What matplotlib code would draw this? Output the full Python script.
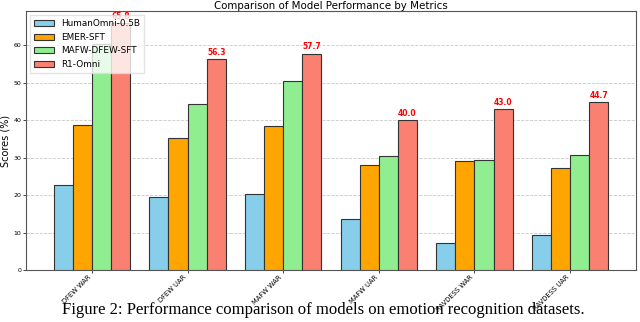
import matplotlib
matplotlib.use("Agg")
import matplotlib.pyplot as plt
import numpy as np

metrics = ["DFEW WAR", "DFEW UAR", "MAFW WAR", "MAFW UAR", "RAVDESS WAR", "RAVDESS UAR"]
models = ["HumanOmni-0.5B", "EMER-SFT", "MAFW-DFEW-SFT", "R1-Omni"]
humanomni = [22.6, 19.4, 20.2, 13.5, 7.3, 9.4]
emer_sft = [38.7, 35.3, 38.4, 28.0, 29.0, 27.2]
mafw_dfew_sft = [60.2, 44.4, 50.4, 30.4, 29.3, 30.8]
r1_omni = [65.8, 56.3, 57.7, 40.0, 43.0, 44.7]
colors = ["skyblue", "orange", "lightgreen", "salmon"]

series = [humanomni, emer_sft, mafw_dfew_sft, r1_omni]

fig = plt.figure(figsize=(6.4, 3.22), dpi=100)
ax = fig.add_axes([26/640, 52/322, 610/640, 259/322])

x = np.arange(len(metrics))
w = 0.2
for i, (vals, name, c) in enumerate(zip(series, models, colors)):
    bars = ax.bar(x + (i - 1.5) * w, vals, w, label=name, color=c,
                  edgecolor="#333333", linewidth=0.8, zorder=3)
    if name == "R1-Omni":
        for b, v in zip(bars, vals):
            ax.text(b.get_x() + b.get_width() / 2, v + 0.6, f"{v:.1f}",
                    ha="center", va="bottom", color="red", fontweight="bold",
                    fontsize=5.5, zorder=4)

ax.set_ylim(0, max(r1_omni) * 1.05)
ax.set_xticks(x)
ax.set_xticklabels(metrics, rotation=45, ha="right", fontsize=4.9)
ax.tick_params(axis="y", labelsize=4.5, length=2, width=0.5, pad=1.5)
ax.tick_params(axis="x", length=2, width=0.5, pad=1)
ax.set_ylabel("Scores (%)", fontsize=7, labelpad=2)
ax.set_title("Comparison of Model Performance by Metrics", fontsize=7.4, pad=1)
ax.yaxis.grid(True, linestyle="--", color="#bbbbbb", linewidth=0.6, alpha=0.8, zorder=0)
for s in ax.spines.values():
    s.set_color("#555555")
    s.set_linewidth(0.8)
ax.legend(loc="upper left", fontsize=6.4, framealpha=0.8, handlelength=2.2,
          borderpad=0.45, labelspacing=0.5, edgecolor="#dddddd", fancybox=False)

fig.text(0.5055, 0.038, "Figure 2: Performance comparison of models on emotion recognition datasets.",
         ha="center", va="center", fontsize=12, family="Liberation Serif")

fig.savefig("out.png", dpi=100)
